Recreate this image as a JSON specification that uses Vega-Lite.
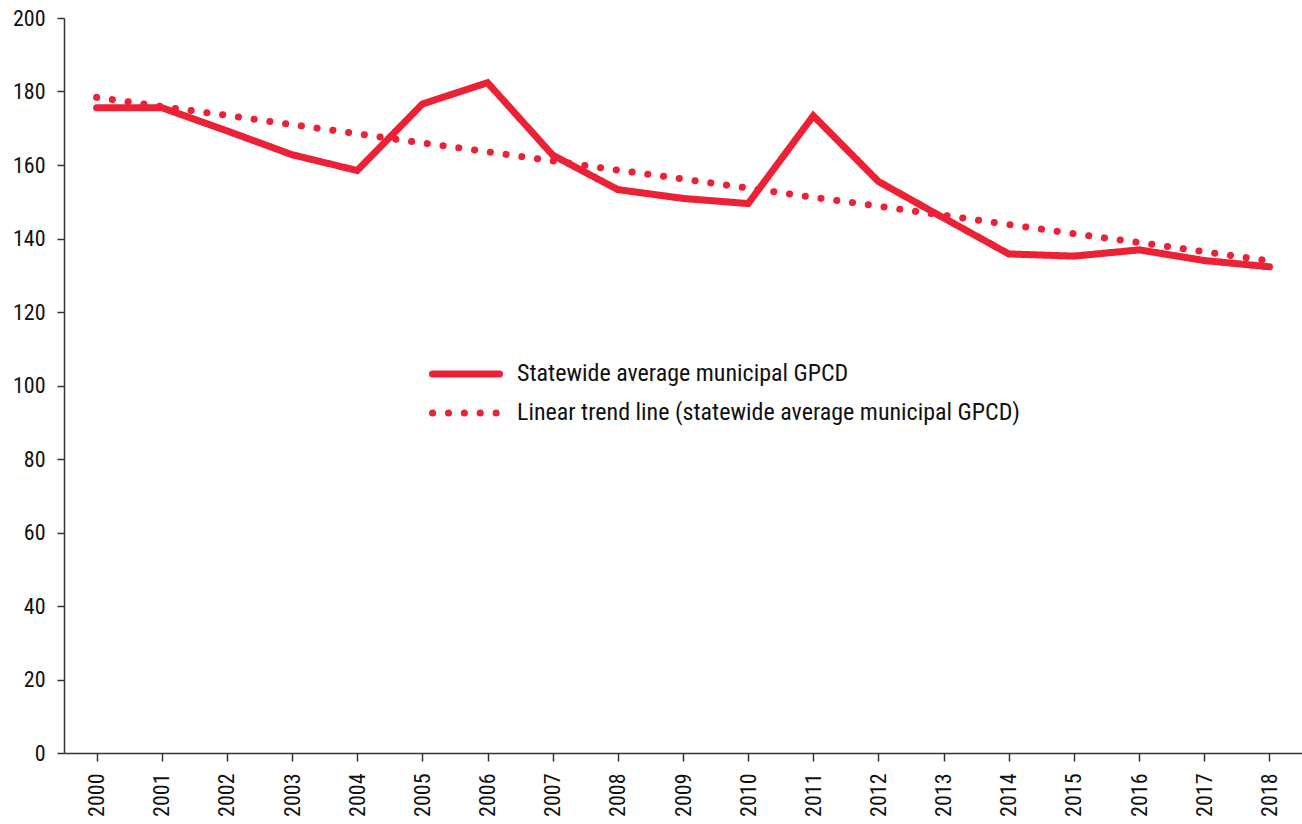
{
  "$schema": "https://vega.github.io/schema/vega-lite/v6.json",
  "width": 1238,
  "height": 735,
  "autosize": {"type": "none"},
  "padding": {"left": 64, "top": 18, "right": 0, "bottom": 71},
  "background": "white",
  "config": {
    "view": {"stroke": null},
    "font": "Roboto Condensed, Liberation Sans Narrow, DejaVu Sans Condensed, sans-serif"
  },
  "data": {
    "values": [
      {"year": "2000", "series": "Statewide average municipal GPCD", "gpcd": 175.6},
      {"year": "2001", "series": "Statewide average municipal GPCD", "gpcd": 175.6},
      {"year": "2002", "series": "Statewide average municipal GPCD", "gpcd": 169.3},
      {"year": "2003", "series": "Statewide average municipal GPCD", "gpcd": 162.8},
      {"year": "2004", "series": "Statewide average municipal GPCD", "gpcd": 158.5},
      {"year": "2005", "series": "Statewide average municipal GPCD", "gpcd": 176.6},
      {"year": "2006", "series": "Statewide average municipal GPCD", "gpcd": 182.4},
      {"year": "2007", "series": "Statewide average municipal GPCD", "gpcd": 162.7},
      {"year": "2008", "series": "Statewide average municipal GPCD", "gpcd": 153.3},
      {"year": "2009", "series": "Statewide average municipal GPCD", "gpcd": 150.9},
      {"year": "2010", "series": "Statewide average municipal GPCD", "gpcd": 149.5},
      {"year": "2011", "series": "Statewide average municipal GPCD", "gpcd": 173.4},
      {"year": "2012", "series": "Statewide average municipal GPCD", "gpcd": 155.5},
      {"year": "2013", "series": "Statewide average municipal GPCD", "gpcd": 145.6},
      {"year": "2014", "series": "Statewide average municipal GPCD", "gpcd": 135.8},
      {"year": "2015", "series": "Statewide average municipal GPCD", "gpcd": 135.2},
      {"year": "2016", "series": "Statewide average municipal GPCD", "gpcd": 136.9},
      {"year": "2017", "series": "Statewide average municipal GPCD", "gpcd": 134.0},
      {"year": "2018", "series": "Statewide average municipal GPCD", "gpcd": 132.3},
      {"year": "2000", "series": "Linear trend line (statewide average municipal GPCD)", "gpcd": 178.4},
      {"year": "2001", "series": "Linear trend line (statewide average municipal GPCD)", "gpcd": 175.9},
      {"year": "2002", "series": "Linear trend line (statewide average municipal GPCD)", "gpcd": 173.5},
      {"year": "2003", "series": "Linear trend line (statewide average municipal GPCD)", "gpcd": 171.0},
      {"year": "2004", "series": "Linear trend line (statewide average municipal GPCD)", "gpcd": 168.5},
      {"year": "2005", "series": "Linear trend line (statewide average municipal GPCD)", "gpcd": 166.0},
      {"year": "2006", "series": "Linear trend line (statewide average municipal GPCD)", "gpcd": 163.6},
      {"year": "2007", "series": "Linear trend line (statewide average municipal GPCD)", "gpcd": 161.1},
      {"year": "2008", "series": "Linear trend line (statewide average municipal GPCD)", "gpcd": 158.6},
      {"year": "2009", "series": "Linear trend line (statewide average municipal GPCD)", "gpcd": 156.2},
      {"year": "2010", "series": "Linear trend line (statewide average municipal GPCD)", "gpcd": 153.7},
      {"year": "2011", "series": "Linear trend line (statewide average municipal GPCD)", "gpcd": 151.2},
      {"year": "2012", "series": "Linear trend line (statewide average municipal GPCD)", "gpcd": 148.8},
      {"year": "2013", "series": "Linear trend line (statewide average municipal GPCD)", "gpcd": 146.3},
      {"year": "2014", "series": "Linear trend line (statewide average municipal GPCD)", "gpcd": 143.8},
      {"year": "2015", "series": "Linear trend line (statewide average municipal GPCD)", "gpcd": 141.3},
      {"year": "2016", "series": "Linear trend line (statewide average municipal GPCD)", "gpcd": 138.9},
      {"year": "2017", "series": "Linear trend line (statewide average municipal GPCD)", "gpcd": 136.4},
      {"year": "2018", "series": "Linear trend line (statewide average municipal GPCD)", "gpcd": 133.9}
    ]
  },
  "mark": {"type": "line", "color": "#ED2135", "strokeWidth": 7, "strokeCap": "round", "strokeJoin": "miter"},
  "encoding": {
    "x": {
      "field": "year", "type": "ordinal",
      "scale": {"type": "point", "padding": 0.5},
      "axis": {
        "title": null, "labelAngle": 270, "labelAlign": "right", "labelBaseline": "middle",
        "labelFontSize": 22, "labelColor": "#111111", "labelPadding": 12,
        "tickSize": 8, "tickColor": "#333333", "domainColor": "#333333", "domainWidth": 1.5, "tickWidth": 1.5,
        "grid": false
      }
    },
    "y": {
      "field": "gpcd", "type": "quantitative",
      "scale": {"domain": [0, 200], "nice": false, "zero": true},
      "axis": {
        "title": null, "values": [0, 20, 40, 60, 80, 100, 120, 140, 160, 180, 200],
        "labelFontSize": 22, "labelColor": "#111111", "labelPadding": 12,
        "tickSize": 7, "tickColor": "#333333", "domainColor": "#333333", "domainWidth": 1.5, "tickWidth": 1.5,
        "grid": false
      }
    },
    "strokeDash": {
      "field": "series", "type": "nominal",
      "scale": {
        "domain": ["Statewide average municipal GPCD", "Linear trend line (statewide average municipal GPCD)"],
        "range": [[1, 0], [0.1, 15.8]]
      },
      "legend": {
        "title": null, "orient": "none", "legendX": 365, "legendY": 341,
        "padding": 0, "symbolType": "stroke", "symbolSize": 4489,
        "symbolStrokeColor": "#ED2135", "symbolStrokeWidth": 7,
        "labelFontSize": 24, "labelColor": "#111111", "labelOffset": 14, "labelLimit": 0,
        "clipHeight": 30, "rowPadding": 9,
        "encode": {"symbols": {"update": {"strokeCap": {"value": "round"}}}}
      }
    }
  }
}
